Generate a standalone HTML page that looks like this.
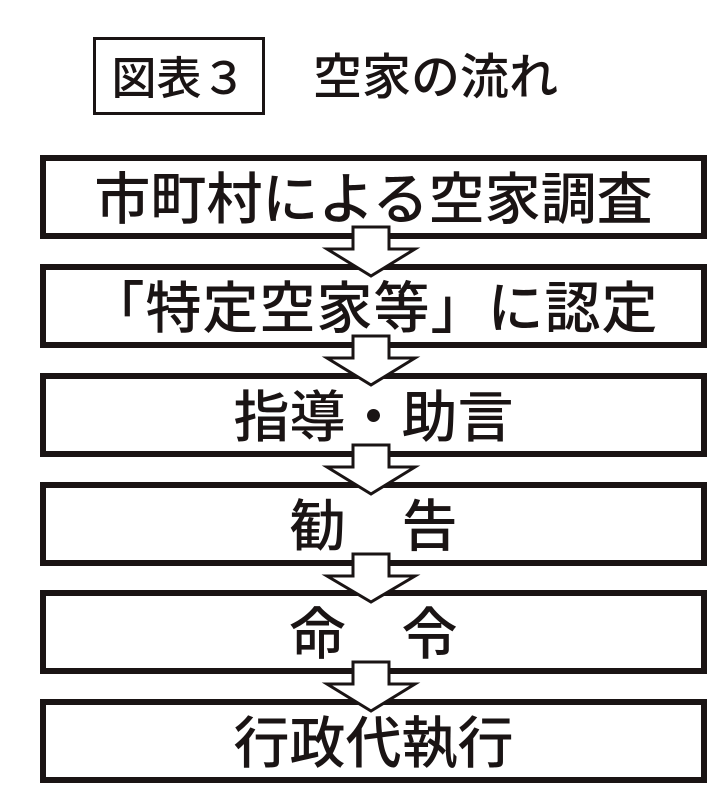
<!DOCTYPE html>
<html><head><meta charset="utf-8"><style>
html,body{margin:0;padding:0;background:#fff;}
body{width:720px;height:810px;position:relative;overflow:hidden;font-family:"Liberation Sans","Noto Sans CJK JP",sans-serif;color:#1a1414;}
.t{position:absolute;box-sizing:border-box;border:3px solid #1a1414;left:93px;top:37px;width:172px;height:78px;font-size:45px;line-height:70px;text-align:center;font-weight:500;font-family:"Noto Sans CJK JP",sans-serif;}
.h{position:absolute;left:313px;top:37px;font-size:49px;line-height:74px;font-weight:500;font-family:"Noto Sans CJK JP",sans-serif;}
.b{position:absolute;box-sizing:border-box;left:40px;width:667px;height:84px;border:6px solid #1a1414;font-size:56px;line-height:70px;text-align:center;font-weight:500;font-family:"Noto Sans CJK JP",sans-serif;}
svg{position:absolute;left:0;top:0;}
</style></head><body>
<div class="t">図表３</div>
<div class="h">空家の流れ</div>
<div class="b" style="top:155px">市町村による空家調査</div>
<div class="b" style="top:264px;letter-spacing:1px">「特定空家等」に認定</div>
<div class="b" style="top:373px">指導・助言</div>
<div class="b" style="top:482px">勧　告</div>
<div class="b" style="top:590px">命　令</div>
<div class="b" style="top:699px">行政代執行</div>
<svg width="720" height="810">
<g fill="#fff" stroke="#1a1414" stroke-width="3" stroke-linejoin="miter">
<polygon points="353,227 389,227 389,249 415,249 371,276 327,249 353,249"/>
<polygon points="353,336 389,336 389,358 415,358 371,385 327,358 353,358"/>
<polygon points="353,445 389,445 389,467 415,467 371,494 327,467 353,467"/>
<polygon points="353,554 389,554 389,576 415,576 371,602 327,576 353,576"/>
<polygon points="353,662 389,662 389,684 415,684 371,711 327,684 353,684"/>
</g>
</svg>
</body></html>
